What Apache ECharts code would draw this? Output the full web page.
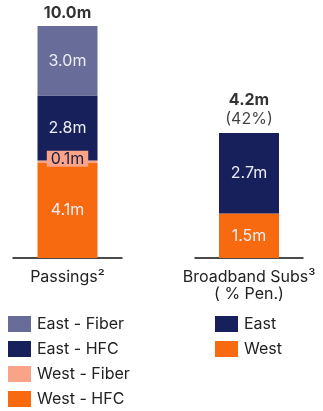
<!DOCTYPE html>
<html>
<head>
<meta charset="utf-8">
<script src="https://cdn.jsdelivr.net/npm/echarts@6/dist/echarts.min.js"></script>
<style>
  html, body { margin: 0; padding: 0; background: #ffffff; }
  #chart { width: 323px; height: 411px; }
</style>
</head>
<body>
<div id="chart"></div>
<script>
// Passings by region / technology (millions)
const passingsCategory = ['Passings²'];
const eastFiber = [3.0];
const eastHFC = [2.8];
const westFiber = [0.1];
const westHFC = [4.1];

// Broadband subscribers by region (millions) and penetration
const subsCategory = ['Broadband Subs³\n( % Pen.)'];
const subsEast = [2.7];
const subsWest = [1.5];
const penetration = ['42%'];

const FONT = 'Inter, "Noto Sans", sans-serif';
const FS = 16;
const C_EAST_FIBER = '#686c98';
const C_EAST = '#18205b';
const C_WEST_FIBER = '#f9a388';
const C_WEST = '#f76a10';

const sum = arr => arr.reduce((a, b) => a + b, 0);
const passingsTotal = sum([eastFiber[0], eastHFC[0], westFiber[0], westHFC[0]]);
const subsTotal = sum([subsEast[0], subsWest[0]]);

const inner = {
  show: true, position: 'inside', color: '#eceef5',
  fontFamily: FONT, fontSize: FS,
  formatter: p => p.value.toFixed(1) + 'm'
};

const legendBase = {
  orient: 'vertical', top: 316, height: 100, padding: 0,
  itemWidth: 23, itemHeight: 16, itemGap: 9,
  icon: 'rect',
  textStyle: { color: '#222', fontFamily: FONT, fontSize: FS, padding: [0, 0, 0, 1] }
};

const chart = echarts.init(document.getElementById('chart'));
chart.setOption({
  animation: false,
  grid: [
    { left: 13, top: 26, width: 109, height: 232 },
    { left: 195, top: 26, width: 108, height: 232 }
  ],
  xAxis: [
    {
      type: 'category', gridIndex: 0, data: passingsCategory,
      axisLine: { lineStyle: { color: '#111', width: 1.5 } },
      axisTick: { show: false },
      axisLabel: { color: '#222', fontFamily: FONT, fontSize: FS, margin: 11, lineHeight: 17 }
    },
    {
      type: 'category', gridIndex: 1, data: subsCategory,
      axisLine: { lineStyle: { color: '#111', width: 1.5 } },
      axisTick: { show: false },
      axisLabel: { color: '#222', fontFamily: FONT, fontSize: FS, margin: 11, lineHeight: 17 }
    }
  ],
  yAxis: [
    { type: 'value', gridIndex: 0, min: 0, max: 10, show: false },
    { type: 'value', gridIndex: 1, min: 0, max: 7.8, show: false }
  ],
  legend: [
    Object.assign({}, legendBase, {
      left: 8,
      data: ['East - Fiber', 'East - HFC', 'West - Fiber', 'West - HFC']
    }),
    Object.assign({}, legendBase, {
      left: 215,
      data: ['East', 'West']
    })
  ],
  series: [
    {
      name: 'West - HFC', type: 'bar', stack: 'p', xAxisIndex: 0, yAxisIndex: 0,
      barWidth: 60, data: westHFC, itemStyle: { color: C_WEST }, label: inner
    },
    {
      name: 'West - Fiber', type: 'bar', stack: 'p', xAxisIndex: 0, yAxisIndex: 0,
      barWidth: 60, data: westFiber, itemStyle: { color: C_WEST_FIBER },
      label: Object.assign({}, inner, {
        color: '#1c1f40', backgroundColor: C_WEST_FIBER,
        padding: [0, 4, 0, 4], offset: [0, -3]
      })
    },
    {
      name: 'East - HFC', type: 'bar', stack: 'p', xAxisIndex: 0, yAxisIndex: 0,
      barWidth: 60, data: eastHFC, itemStyle: { color: C_EAST }, label: inner
    },
    {
      name: 'East - Fiber', type: 'bar', stack: 'p', xAxisIndex: 0, yAxisIndex: 0,
      barWidth: 60, data: eastFiber, itemStyle: { color: C_EAST_FIBER }, label: inner
    },
    {
      name: 'passingsTotal', type: 'scatter', xAxisIndex: 0, yAxisIndex: 0,
      symbolSize: 0, data: [[0, passingsTotal]],
      label: {
        show: true, position: 'top', distance: 5,
        color: '#000', fontFamily: FONT, fontSize: FS, fontWeight: 'bold',
        formatter: () => passingsTotal.toFixed(1) + 'm'
      }
    },
    {
      name: 'West', type: 'bar', stack: 's', xAxisIndex: 1, yAxisIndex: 1,
      barWidth: 60, data: subsWest, itemStyle: { color: C_WEST }, label: inner
    },
    {
      name: 'East', type: 'bar', stack: 's', xAxisIndex: 1, yAxisIndex: 1,
      barWidth: 60, data: subsEast, itemStyle: { color: C_EAST }, label: inner
    },
    {
      name: 'subsTotal', type: 'scatter', xAxisIndex: 1, yAxisIndex: 1,
      symbolSize: 0, data: [[0, subsTotal]],
      label: {
        show: true, position: 'top', distance: 4,
        formatter: () => '{b|' + subsTotal.toFixed(1) + 'm}\n{r|(' + penetration[0] + ')}',
        rich: {
          b: { color: '#000', fontFamily: FONT, fontSize: FS, fontWeight: 'bold', lineHeight: 19, align: 'center' },
          r: { color: '#111', fontFamily: FONT, fontSize: FS, lineHeight: 19, align: 'center' }
        }
      }
    }
  ]
});
</script>
</body>
</html>
